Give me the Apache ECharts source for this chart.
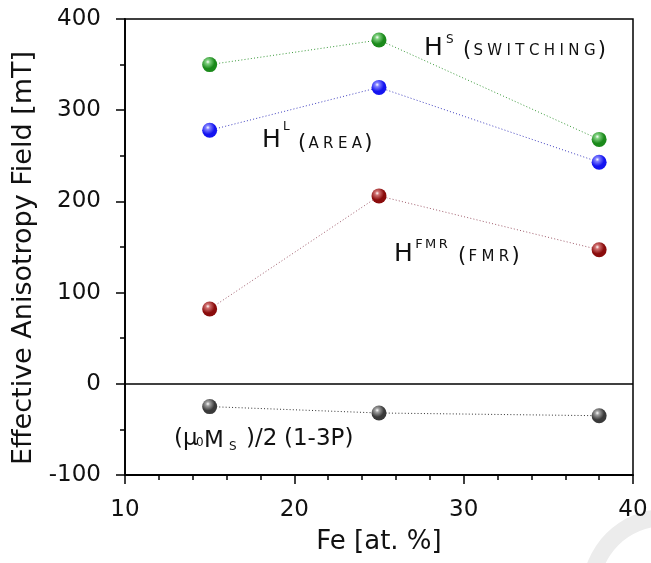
<!DOCTYPE html>
<html>
<head>
<meta charset="utf-8">
<script src="https://cdn.jsdelivr.net/npm/echarts@6/dist/echarts.min.js"></script>
<style>
  html, body { margin: 0; padding: 0; background: #fff; }
  #chart { width: 651px; height: 563px; }
</style>
</head>
<body>
<div id="chart"></div>
<script>
// ---- data ----
const feContent = [15, 25, 38];                 // Fe [at. %]
const hSwitching = [350, 377, 268];             // H^S (switching)
const hArea = [278, 325, 243];                  // H^L (area)
const hFmr = [82, 206, 147];                    // H^FMR (FMR)
const demag = [-25, -32, -35];                  // (mu0 Ms)/2 (1-3P)
const xTicks = [10, 20, 30, 40];
const yTicks = [-100, 0, 100, 200, 300, 400];

const FONT = 'DejaVu Sans';

function pairs(ys) { return feContent.map((x, i) => [x, ys[i]]); }

function sphere(base, light) {
  return {
    type: 'radial', x: 0.38, y: 0.32, r: 0.75,
    colorStops: [
      { offset: 0, color: '#ffffff' },
      { offset: 0.18, color: light },
      { offset: 0.6, color: base },
      { offset: 1, color: base }
    ]
  };
}

function series(name, ys, base, light, lineColor) {
  return {
    name: name, type: 'line', data: pairs(ys),
    symbol: 'circle', symbolSize: 15,
    itemStyle: { color: sphere(base, light) },
    lineStyle: { type: [1, 2.2], width: 1, color: lineColor },
    z: 3
  };
}

function spaced(text, style) {
  return text.split('').map(c => '{' + style + '|' + c + '}').join('');
}

function txt(x, y, text, size, extra) {
  return Object.assign({
    type: 'text', x: x, y: y,
    style: { text: text, font: size + 'px "' + FONT + '"', fill: '#111', verticalAlign: 'middle', align: 'left' }
  }, extra || {});
}

function richTxt(x, y, text, rich) {
  return {
    type: 'text', x: x, y: y,
    style: { text: text, fontFamily: FONT, fill: '#111', verticalAlign: 'middle', align: 'left', rich: rich }
  };
}

const capsRich = (pad, size) => ({
  p: { fontFamily: FONT, fontSize: 21, color: '#111' },
  s: { fontFamily: FONT, fontSize: size, color: '#111', padding: [0, pad, 0, pad] }
});

const chart = echarts.init(document.getElementById('chart'), null, { renderer: 'canvas' });

const option = {
  backgroundColor: '#fff',
  animation: false,
  grid: { left: 125, right: 18, top: 19, bottom: 88, show: true, borderColor: '#000', borderWidth: 1.5, backgroundColor: 'transparent' },
  xAxis: {
    type: 'value', min: xTicks[0], max: xTicks[xTicks.length - 1], interval: 10,
    name: 'Fe [at. %]', nameLocation: 'middle', nameGap: 54,
    nameTextStyle: { fontFamily: FONT, fontSize: 26, color: '#111' },
    axisLine: { show: true, onZero: false, lineStyle: { color: '#000', width: 1.8 } },
    axisTick: { show: true, inside: false, length: 9, lineStyle: { color: '#000', width: 1.5 } },
    minorTick: { show: true, splitNumber: 5, length: 5, lineStyle: { color: '#000', width: 1.5 } },
    axisLabel: { fontFamily: FONT, fontSize: 23, color: '#111', margin: 24 },
    splitLine: { show: false }
  },
  yAxis: {
    type: 'value', min: yTicks[0], max: yTicks[yTicks.length - 1], interval: 100,
    name: 'Effective Anisotropy Field [mT]', nameLocation: 'middle', nameGap: 84,
    nameTextStyle: { fontFamily: FONT, fontSize: 27, color: '#111', padding: [0, 22, 0, 0] },
    axisLine: { show: true, onZero: false, lineStyle: { color: '#000', width: 1.8 } },
    axisTick: { show: true, inside: false, length: 9, lineStyle: { color: '#000', width: 1.5 } },
    minorTick: { show: true, splitNumber: 2, length: 5, lineStyle: { color: '#000', width: 1.5 } },
    axisLabel: { fontFamily: FONT, fontSize: 23, color: '#111', margin: 24 },
    splitLine: { show: false }
  },
  series: [
    series('HS', hSwitching, '#1b8a1b', '#7fd07f', '#3a9a3a'),
    series('HL', hArea, '#1414f0', '#8080ff', '#4040c0'),
    series('HFMR', hFmr, '#8a0c0c', '#d07070', '#a05c6c'),
    Object.assign(series('demag', demag, '#3a3a3a', '#a0a0a0', '#333'), {
      markLine: {
        silent: true, symbol: ['none', 'none'], label: { show: false },
        lineStyle: { type: 'solid', color: '#000', width: 1.5 },
        data: [{ yAxis: 0 }]
      }
    })
  ],
  graphic: [
    { type: 'ring', shape: { cx: 665, cy: 592, r: 83, r0: 66 }, style: { fill: '#ececec' }, z: -10 },
    // H^S (SWITCHING)
    txt(424, 48, 'H', 25),
    txt(446, 40, 'S', 12),
    richTxt(463, 51, '{p|(}' + spaced('SWITCHING', 's') + '{p|)}', capsRich(2.2, 15)),
    // H^L (AREA)
    txt(262, 140, 'H', 25),
    txt(283, 127, 'L', 12),
    richTxt(298, 144, '{p|(}' + spaced('AREA', 's') + '{p|)}', capsRich(2.2, 15)),
    // H^FMR (FMR)
    txt(394, 254, 'H', 25),
    richTxt(414, 245, spaced('FMR', 's'), { s: { fontFamily: FONT, fontSize: 13, color: '#111', padding: [0, 1.2, 0, 1.2] } }),
    richTxt(458, 257, '{p|(}' + spaced('FMR', 's') + '{p|)}', capsRich(2.2, 15)),
    // (mu0 Ms)/2 (1-3P)
    txt(174, 439, '(μ', 23),
    txt(196, 443, '0', 12),
    txt(204, 441, 'M', 23),
    txt(229, 447, 'S', 12),
    txt(246, 439, ')/2', 23),
    txt(284, 439, '(1-3P)', 23)
  ]
};

chart.setOption(option);
</script>
</body>
</html>
